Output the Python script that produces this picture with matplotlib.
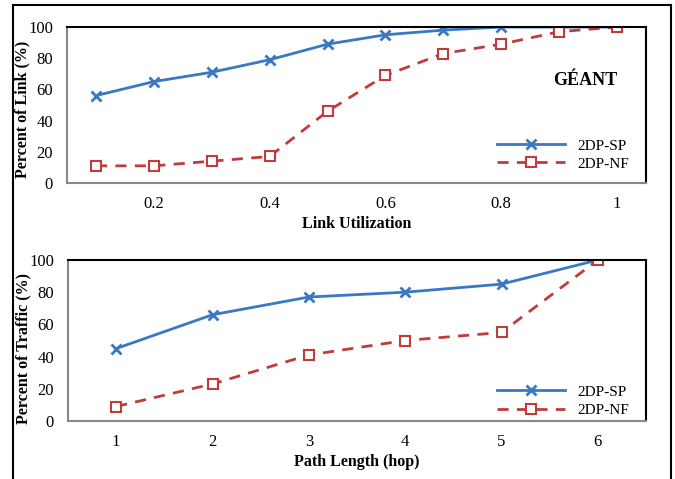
import matplotlib.pyplot as plt
from matplotlib.lines import Line2D

# data
util = [0.1, 0.2, 0.3, 0.4, 0.5, 0.6, 0.7, 0.8, 0.9, 1.0]
link_sp = [56, 65, 71, 79, 89, 95, 98, 100, 100, 100]
link_nf = [11, 11, 14, 17, 46, 69, 83, 89, 97, 100]

hops = [1, 2, 3, 4, 5, 6]
traffic_sp = [45, 66, 77, 80, 85, 100]
traffic_nf = [9, 23, 41, 50, 55, 100]

util_ticks = [0.2, 0.4, 0.6, 0.8, 1.0]
util_labels = ["0.2", "0.4", "0.6", "0.8", "1"]

plt.rcParams['font.family'] = ['Liberation Serif', 'DejaVu Serif']

blue = "#3b78c3"
red = "#c23b3b"

W, H = 675, 479
fig = plt.figure(figsize=(6.75, 4.79), dpi=100)


def box(x0, y0, x1, y1):
    return [x0 / W, 1 - y1 / H, (x1 - x0) / W, (y1 - y0) / H]


def style(ax):
    for s in ["top", "right"]:
        ax.spines[s].set_color("black")
        ax.spines[s].set_linewidth(1.5)
    for s in ["left", "bottom"]:
        ax.spines[s].set_color("#888888")
        ax.spines[s].set_linewidth(1.5)
    ax.tick_params(axis="y", length=0, labelsize=12, pad=10)
    ax.tick_params(axis="x", length=0, labelsize=12, pad=9)
    ax.set_ylim(0, 100)
    ax.set_yticks([0, 20, 40, 60, 80, 100])


def draw(ax, x, sp, nf):
    ax.plot(x, sp, color=blue, lw=2, marker="x", ms=7, mew=2, label="2DP-SP")
    ax.plot(x, nf, color=red, lw=2, ls=(0, (4, 3)), marker="s", ms=7,
            mfc="white", mec=red, mew=1.5, label="2DP-NF")


# top panel
ax1 = fig.add_axes(box(67, 27, 646, 183))
draw(ax1, util, link_sp, link_nf)
ax1.set_xlim(0.05, 1.05)
ax1.set_xticks(util_ticks)
ax1.set_xticklabels(util_labels)
style(ax1)
ax1.set_xlabel("Link Utilization", fontsize=11.5, fontweight="bold", labelpad=3)
ax1.set_ylabel("Percent of Link (%)", fontsize=11.5, fontweight="bold")
ax1.yaxis.set_label_coords(-0.063, 0.47)
ax1.text(0.895, 0.66, "GÉANT", transform=ax1.transAxes, ha="center", va="center",
         fontsize=13, fontweight="bold")
ax1.legend(loc="lower right", bbox_to_anchor=(0.995, -0.01), frameon=False,
           fontsize=11, handlelength=4.5, labelspacing=0.3)

# bottom panel
ax2 = fig.add_axes(box(68, 260, 646, 421))
draw(ax2, hops, traffic_sp, traffic_nf)
ax2.set_xlim(0.5, 6.5)
ax2.set_xticks(hops)
style(ax2)
ax2.set_xlabel("Path Length (hop)", fontsize=11.5, fontweight="bold", labelpad=3)
ax2.set_ylabel("Percent of Traffic (%)", fontsize=11.5, fontweight="bold")
ax2.yaxis.set_label_coords(-0.063, 0.45)
ax2.legend(loc="lower right", bbox_to_anchor=(0.995, -0.06), frameon=False,
           fontsize=11, handlelength=4.5, labelspacing=0.3)

# outer frame
fig.add_artist(Line2D([13 / W, 13 / W], [0, 1 - 5 / H], color="black", lw=1.5))
fig.add_artist(Line2D([13 / W, 671 / W], [1 - 5 / H, 1 - 5 / H], color="black", lw=1.5))
fig.add_artist(Line2D([671 / W, 671 / W], [0, 1 - 5 / H], color="black", lw=1.5))

fig.savefig("out.png", dpi=100)
